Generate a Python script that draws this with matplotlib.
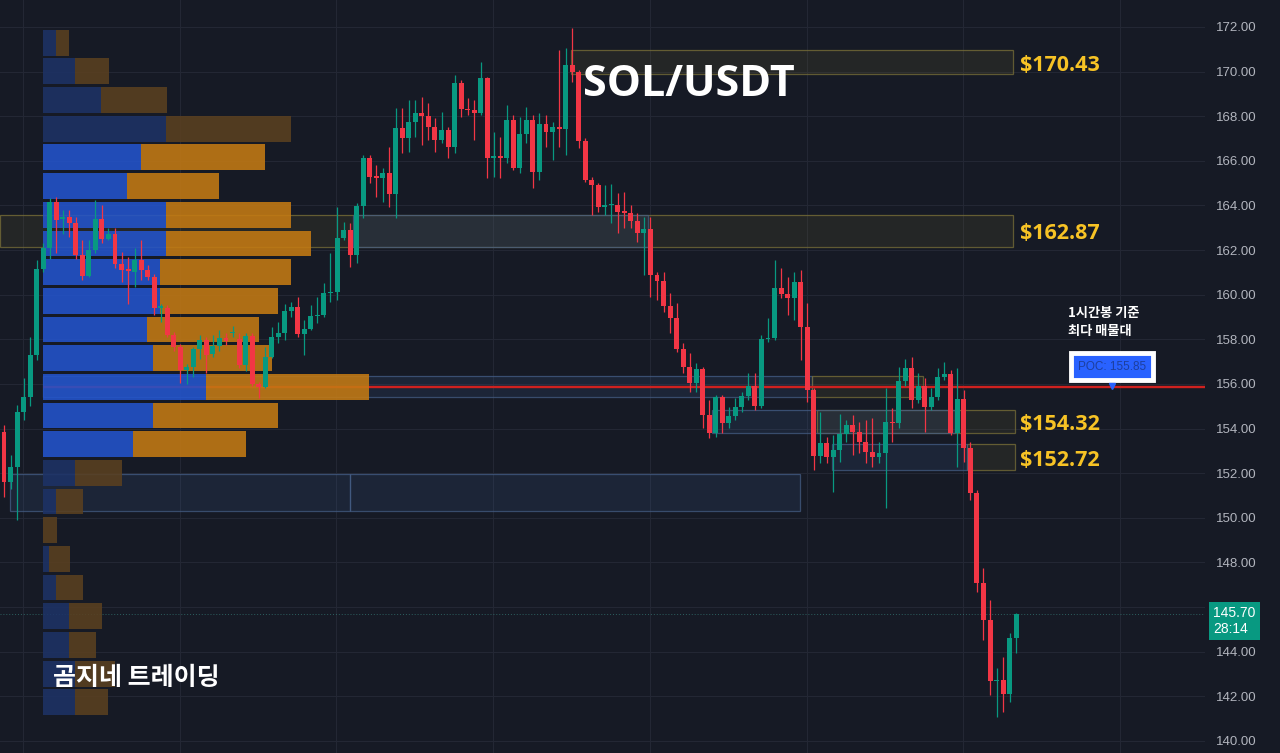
import numpy as np
import matplotlib
matplotlib.use("Agg")
import matplotlib.pyplot as plt
import matplotlib.transforms as mtransforms

plt.rcParams['font.family'] = ['Noto Sans CJK KR', 'DejaVu Sans']

# --- 1h candles, SOL/USDT ---
opens = [153.83, 151.59, 152.29, 154.76, 155.43, 157.29, 161.15, 162.08, 164.17, 163.40,
         163.50, 163.23, 161.78, 160.85, 162.00, 163.39, 162.52, 162.70, 161.37, 161.15,
         161.03, 161.55, 161.10, 160.80, 159.40, 159.39, 158.19, 157.67, 156.62, 156.74,
         157.56, 157.97, 157.34, 157.70, 158.04, 158.30, 158.00, 156.83, 158.16, 156.02,
         155.88, 157.22, 158.12, 158.27, 159.28, 159.43, 158.24, 158.45, 159.05, 159.10,
         160.06, 160.14, 162.53, 162.90, 161.78, 163.99, 166.14, 165.32, 165.22, 165.44,
         164.50, 167.49, 167.04, 167.76, 168.13, 168.03, 167.53, 166.93, 167.38, 166.60,
         169.47, 168.32, 168.28, 168.13, 169.73, 166.11, 166.22, 166.11, 167.83, 165.66,
         167.19, 167.83, 165.51, 167.64, 167.31, 167.50, 167.41, 170.30, 170.00, 166.90,
         165.14, 164.92, 163.95, 164.00, 164.02, 163.77, 163.68, 163.32, 162.75, 162.96,
         160.89, 160.63, 159.50, 158.94, 157.55, 156.74, 156.06, 156.66, 154.61, 153.79,
         155.40, 154.24, 154.56, 154.95, 155.46, 155.91, 155.01, 158.00, 158.05, 160.29,
         160.03, 159.84, 160.56, 158.57, 155.73, 152.79, 153.34, 152.74, 153.04, 153.76,
         154.16, 153.86, 153.41, 152.97, 152.74, 152.92, 154.31, 154.23, 156.15, 156.73,
         155.28, 155.91, 154.98, 155.43, 156.33, 156.43, 153.82, 155.31, 153.12, 151.10,
         147.09, 145.42, 142.70, 142.73, 142.10, 144.60]
highs = [154.16, 152.80, 155.05, 156.25, 158.10, 161.55, 162.30, 164.32, 164.40, 163.80,
         163.80, 163.50, 162.45, 162.45, 164.24, 164.00, 162.97, 162.97, 161.93, 161.70,
         162.10, 162.45, 161.33, 160.95, 159.60, 159.54, 158.34, 157.80, 156.90, 157.67,
         158.19, 158.10, 158.19, 158.40, 158.27, 158.60, 158.30, 158.30, 158.30, 156.10,
         157.67, 158.57, 158.79, 159.60, 159.69, 159.90, 158.87, 159.54, 159.90, 160.51,
         161.85, 163.95, 163.27, 163.20, 164.10, 166.26, 166.26, 165.80, 165.66, 166.64,
         168.35, 168.35, 168.73, 168.73, 168.88, 168.58, 167.90, 168.20, 167.53, 169.85,
         169.62, 168.80, 168.73, 170.45, 169.77, 167.30, 167.08, 168.50, 168.05, 167.98,
         168.40, 168.06, 168.13, 168.06, 167.76, 170.97, 171.04, 171.94, 170.07, 167.01,
         165.29, 164.99, 164.92, 164.95, 164.55, 164.62, 164.02, 163.65, 163.50, 163.50,
         161.03, 161.03, 160.06, 159.61, 157.82, 157.37, 156.93, 156.77, 155.28, 155.51,
         155.51, 154.98, 155.36, 155.66, 156.48, 156.48, 158.20, 158.94, 161.56, 161.18,
         160.81, 161.03, 161.11, 159.61, 155.80, 154.76, 153.64, 153.71, 154.65, 154.38,
         154.61, 154.31, 154.38, 154.46, 153.41, 155.80, 154.91, 156.77, 157.10, 157.22,
         156.48, 156.25, 155.80, 156.70, 157.00, 156.63, 156.70, 155.73, 153.41, 151.25,
         147.74, 146.32, 143.25, 143.75, 144.82, 145.72]
lows = [150.94, 151.30, 149.90, 154.38, 155.00, 157.07, 161.00, 161.60, 161.85, 162.70,
        162.60, 161.60, 160.66, 160.78, 161.85, 162.30, 162.45, 161.18, 160.58, 159.60,
        160.36, 160.66, 160.66, 159.09, 158.80, 158.10, 157.50, 156.03, 156.00, 156.30,
        157.14, 156.47, 157.20, 157.50, 157.74, 158.10, 156.70, 156.60, 155.90, 155.36,
        155.80, 157.15, 157.82, 157.97, 159.00, 158.12, 157.30, 158.42, 158.72, 159.00,
        159.69, 159.76, 162.45, 161.26, 161.41, 163.42, 164.99, 164.40, 164.17, 163.95,
        163.42, 166.34, 166.41, 167.08, 166.71, 166.93, 166.41, 166.79, 166.11, 166.34,
        167.98, 168.05, 166.93, 168.05, 165.22, 165.29, 165.22, 165.89, 165.59, 165.44,
        166.79, 164.77, 165.14, 166.64, 166.04, 166.64, 166.26, 169.55, 166.56, 165.07,
        163.57, 163.72, 163.57, 163.20, 162.75, 162.98, 162.98, 162.38, 160.89, 159.91,
        159.76, 159.24, 158.27, 157.45, 156.48, 155.66, 155.66, 154.01, 153.56, 153.64,
        153.79, 154.01, 154.38, 154.76, 155.28, 154.84, 154.91, 157.90, 157.97, 159.84,
        159.09, 158.87, 157.07, 155.20, 152.14, 152.44, 152.44, 151.17, 152.52, 153.41,
        152.82, 152.89, 152.44, 152.29, 152.44, 150.43, 153.41, 154.01, 155.91, 154.91,
        155.13, 153.86, 154.83, 155.28, 156.18, 153.71, 152.29, 152.52, 150.80, 146.69,
        144.52, 142.06, 141.09, 141.31, 141.76, 143.93]
closes = [151.59, 152.29, 154.76, 155.43, 157.29, 161.15, 162.08, 164.17, 163.35, 163.50,
          163.23, 161.78, 160.85, 162.00, 163.39, 162.50, 162.70, 161.37, 161.13, 161.06,
          161.55, 161.10, 160.78, 159.39, 159.50, 158.19, 157.67, 156.62, 156.74, 157.56,
          157.97, 157.29, 157.70, 158.04, 157.94, 158.35, 156.83, 158.16, 156.02, 155.88,
          157.22, 158.12, 158.27, 159.28, 159.43, 158.24, 158.45, 159.05, 159.10, 160.06,
          160.14, 162.53, 162.90, 161.78, 163.99, 166.14, 165.29, 165.22, 165.44, 164.50,
          167.49, 167.04, 167.76, 168.13, 168.03, 167.53, 166.93, 167.38, 166.60, 169.47,
          168.32, 168.26, 168.13, 169.73, 166.11, 166.22, 166.11, 167.83, 165.66, 167.19,
          167.83, 165.51, 167.64, 167.31, 167.50, 167.41, 170.30, 170.00, 166.90, 165.14,
          164.92, 163.95, 164.01, 164.04, 163.72, 163.68, 163.32, 162.75, 162.96, 160.89,
          160.63, 159.50, 158.94, 157.55, 156.74, 156.06, 156.66, 154.61, 153.79, 155.40,
          154.24, 154.56, 154.95, 155.46, 155.91, 155.01, 158.00, 158.05, 160.29, 160.03,
          159.84, 160.56, 158.57, 155.73, 152.79, 153.34, 152.74, 153.04, 153.76, 154.16,
          153.86, 153.41, 152.97, 152.74, 152.92, 154.31, 154.23, 156.15, 156.73, 155.28,
          155.91, 154.98, 155.43, 156.33, 156.43, 153.82, 155.31, 153.12, 151.10, 147.09,
          145.42, 142.70, 142.72, 142.10, 144.60, 145.70]

price_ticks = np.arange(140, 173, 2)
last_price = 145.70
bar_timer = "28:14"

# --- volume profile, 24 rows from top to bottom ---
vp_top, vp_bottom = 171.94, 141.09
vp_up = [13.3, 32.3, 58.3, 123.3, 98.0, 84.6, 123.3, 123.3, 117.3, 117.3, 104.0, 110.6,
         163.3, 110.6, 90.6, 32.3, 13.0, 0.0, 6.6, 13.3, 26.3, 26.3, 32.3, 32.3]
vp_down = [13.3, 34.0, 66.3, 125.0, 124.3, 92.0, 125.0, 145.0, 131.0, 117.7, 112.0, 118.4,
           163.0, 124.4, 112.4, 46.7, 27.0, 14.0, 20.7, 26.7, 32.7, 27.0, 40.0, 33.3]
va_first, va_last = 4, 14
poc_price = 155.85

# --- zones (bar from, bar to, low, high, kind) ---
zone_from = [86.9, -0.6, 53.4, 124.5, 108.4, 147.4, 126.8, 5.9, 123.7, 0.9, 53.0]
zone_to = [154.5, 154.5, 98.6, 154.8, 145.6, 154.8, 147.4, 123.7, 140.7, 53.0, 121.9]
zone_low = [169.89, 162.15, 162.15, 153.79, 153.79, 152.15, 152.15, 155.40, 155.40, 150.32, 150.32]
zone_high = [170.97, 163.58, 163.58, 154.85, 154.85, 153.29, 153.29, 156.36, 156.36, 151.96, 151.96]
zone_kind = ['olive', 'olive', 'blue', 'olive', 'blue', 'olive', 'blue', 'blue', 'olive', 'blue', 'blue']
level_labels = [170.43, 162.87, 154.32, 152.72]

bg = '#161a25'
up_col, dn_col = '#089981', '#f23645'
latin_bold = ['Open Sans', 'DejaVu Sans']

fig = plt.figure(figsize=(12.8, 7.53), dpi=100, facecolor=bg)
ax = fig.add_axes([0, 0, 1205 / 1280, 1])
ax.set_facecolor(bg)
ax.set_xlim(-0.61, 183.92)
ax.set_ylim(139.46, 173.21)

# grid
ax.set_yticks(price_ticks)
ax.set_yticklabels(['%.2f' % t for t in price_ticks])
ax.set_xticks(np.arange(2.9, 184, 24))
ax.grid(True, color='#232734', lw=0.8)
ax.set_axisbelow(True)
for s in ax.spines.values():
    s.set_visible(False)
ax.yaxis.tick_right()
ax.tick_params(axis='y', length=0, pad=8, labelsize=9.5, labelcolor='#b2b5be')
ax.tick_params(axis='x', length=0, labelbottom=False)
for lab in ax.get_yticklabels():
    lab.set_family('Liberation Sans')

# zones
styles = {'olive': ('#6e6630', '#7a7038'), 'blue': ('#3d5f94', '#445d85')}
for x0, x1, lo, hi, k in zip(zone_from, zone_to, zone_low, zone_high, zone_kind):
    fc, ec = styles[k]
    ax.add_patch(plt.Rectangle((x0, lo), x1 - x0, hi - lo, fc=fc, alpha=0.17, ec='none', zorder=1))
    ax.add_patch(plt.Rectangle((x0, lo), x1 - x0, hi - lo, fill=False, ec=ec, alpha=0.75,
                               lw=0.9, zorder=1.1))

# POC line
vp_x0 = 5.93
ax.hlines(poc_price, vp_x0, 183.92, color='#d0211f', lw=1.7, zorder=1.5)

# volume profile
px = 1 / 6.53
pitch = (vp_top - vp_bottom) / len(vp_up)
centers = vp_top - pitch * (np.arange(len(vp_up)) + 0.5)
for k, (u, d) in enumerate(zip(vp_up, vp_down)):
    bright = va_first <= k <= va_last
    cu = '#2354cc' if bright else '#1d3266'
    cd = '#c47a13' if bright else '#5a4020'
    ax.barh(centers[k], u * px, left=vp_x0, height=pitch * 0.9, color=cu, alpha=0.88, zorder=2)
    ax.barh(centers[k], d * px, left=vp_x0 + u * px, height=pitch * 0.9, color=cd, alpha=0.88, zorder=2)

# candles
o = np.array(opens); h = np.array(highs); l = np.array(lows); c = np.array(closes)
idx = np.arange(len(o))
cols = np.where(c >= o, up_col, dn_col)
ax.vlines(idx, l, h, colors=cols, lw=0.9, zorder=3)
body = np.maximum(np.abs(c - o), 0.05)
ax.bar(idx, body, bottom=np.minimum(o, c), width=0.76, color=cols, zorder=3.1)

# last price
ax.axhline(last_price, color='#3b8f86', lw=0.7, ls=(0, (1, 2)), alpha=0.6, zorder=1)
trans = mtransforms.blended_transform_factory(ax.transAxes, ax.transData)
ax.text(1213 / 1205, last_price - 0.33, '%.2f\n%s' % (last_price, bar_timer), transform=trans,
        ha='left', va='center', color='white', fontsize=10, family='Liberation Sans',
        linespacing=1.15, zorder=10, clip_on=False,
        bbox=dict(boxstyle='square,pad=0.32', fc=up_col, ec='none'))

# level labels
for lv in level_labels:
    ax.text(155.6, lv - 0.14, '$%.2f' % lv, color='#f7c325', fontsize=15.5, fontweight='bold',
            family=latin_bold, ha='left', va='center', zorder=6)

# POC label
ax.text(169.7, poc_price + 0.93, 'POC: %.2f' % poc_price, color='#1d3f9e', fontsize=8.5,
        family='Liberation Sans', ha='center', va='center', zorder=8,
        bbox=dict(boxstyle='square,pad=0.6', fc='#2962ff', ec='white', lw=3.5))
ax.plot(169.7, poc_price + 0.08, marker='v', ms=5, color='#2962ff', zorder=8)
ax.text(162.9, poc_price + 2.93, '1시간봉 기준\n최다 매물대', color='white', fontsize=9.5,
        fontweight='bold', ha='left', va='center', linespacing=1.35, zorder=8)

ax.text(583 / 1205, 0.888, 'SOL/USDT', transform=ax.transAxes, color='white', fontsize=31,
        fontweight='bold', family=latin_bold, ha='left', va='center', zorder=8)
ax.text(53 / 1205, 0.099, '곰지네 트레이딩', transform=ax.transAxes, color='white', fontsize=18,
        fontweight='bold', ha='left', va='center', zorder=8)

fig.savefig('out.png', dpi=100, facecolor=bg)
